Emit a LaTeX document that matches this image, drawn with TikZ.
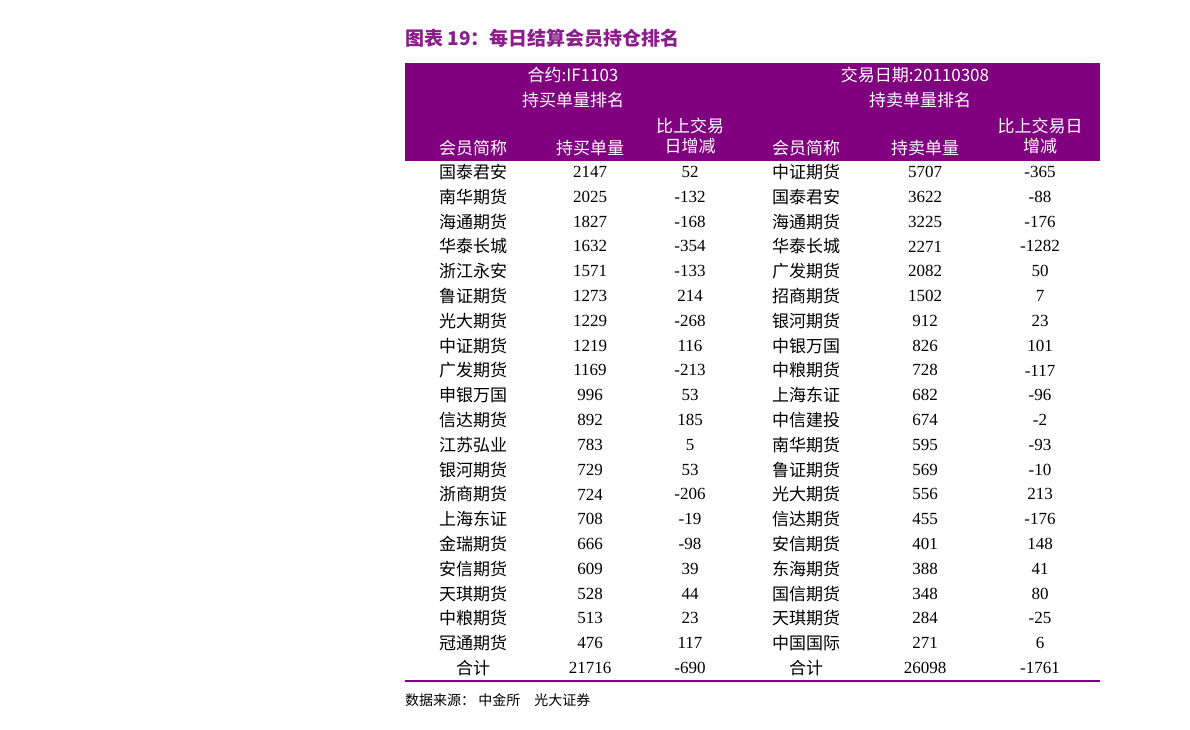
\documentclass[tikz,border=0pt]{standalone}
\usepackage{fontspec}
\setmainfont{Liberation Serif}
\newfontfamily\cjk{Noto Sans CJK SC}
\definecolor{hdpurple}{HTML}{800080}
\definecolor{ttlpurple}{HTML}{8A1E8A}
\begin{document}
\begin{tikzpicture}[x=1pt,y=-1pt,
    cell/.style={inner sep=0pt,anchor=center,font=\fontsize{17}{20}\selectfont},
    headtext/.style={inner sep=0pt,anchor=center,text=white,font=\cjk\fontsize{17}{20}\selectfont,align=center},
    membercell/.style={cell,font=\cjk\fontsize{17}{20}\selectfont}]
    \useasboundingbox (0,0) rectangle (1190,730);
    \node[inner sep=0pt,anchor=west,text=ttlpurple,font=\cjk\bfseries\fontsize{19}{22}\selectfont] (title) at (405,38) {图表 19：每日结算会员持仓排名};
    % header band
    \fill[hdpurple] (405,63) rectangle (1100,161);
    \node[headtext] (hl1) at (573,75) {合约:IF1103};
    \node[headtext] (hl2) at (573,100) {持买单量排名};
    \node[headtext] (hr1) at (915,75) {交易日期:20110308};
    \node[headtext] (hr2) at (920,100) {持卖单量排名};
    \node[headtext] (c1) at (473,148) {会员简称};
    \node[headtext] (c2) at (590,148) {持买单量};
    \node[headtext] (c3) at (690,136) {比上交易\\日增减};
    \node[headtext] (c4) at (806,148) {会员简称};
    \node[headtext] (c5) at (925,148) {持卖单量};
    \node[headtext] (c6) at (1040,136) {比上交易日\\增减};
    % rows
    \foreach \na/\vb/\db/\nb/\vs/\ds [count=\i] in {
      国泰君安/2147/52/中证期货/5707/-365,
      南华期货/2025/-132/国泰君安/3622/-88,
      海通期货/1827/-168/海通期货/3225/-176,
      华泰长城/1632/-354/华泰长城/2271/-1282,
      浙江永安/1571/-133/广发期货/2082/50,
      鲁证期货/1273/214/招商期货/1502/7,
      光大期货/1229/-268/银河期货/912/23,
      中证期货/1219/116/中银万国/826/101,
      广发期货/1169/-213/中粮期货/728/-117,
      申银万国/996/53/上海东证/682/-96,
      信达期货/892/185/中信建投/674/-2,
      江苏弘业/783/5/南华期货/595/-93,
      银河期货/729/53/鲁证期货/569/-10,
      浙商期货/724/-206/光大期货/556/213,
      上海东证/708/-19/信达期货/455/-176,
      金瑞期货/666/-98/安信期货/401/148,
      安信期货/609/39/东海期货/388/41,
      天琪期货/528/44/国信期货/348/80,
      中粮期货/513/23/天琪期货/284/-25,
      冠通期货/476/117/中国国际/271/6,
      合计/21716/-690/合计/26098/-1761}{
      \pgfmathsetmacro{\ry}{172+(\i-1)*24.8}
      \node[membercell] (na\i) at (473,\ry) {\na};
      \node[cell] (vb\i) at (590,\ry) {\vb};
      \node[cell] (db\i) at (690,\ry) {\db};
      \node[membercell] (nb\i) at (806,\ry) {\nb};
      \node[cell] (vs\i) at (925,\ry) {\vs};
      \node[cell] (ds\i) at (1040,\ry) {\ds};
    }
    \draw[hdpurple,line width=2.5pt] (405,681) -- (1100,681);
    \node[inner sep=0pt,anchor=west,font=\cjk\fontsize{14}{16}\selectfont] (src) at (405,700) {数据来源： 中金所\quad 光大证券};
\end{tikzpicture}
\end{document}
